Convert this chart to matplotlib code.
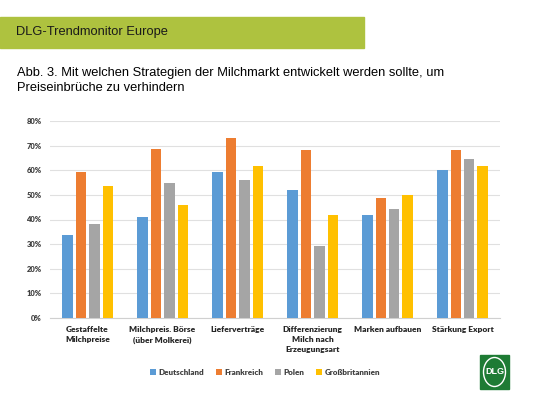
import matplotlib.pyplot as plt
import numpy as np
from matplotlib.patches import Rectangle, Ellipse

kategorien = ["Gestaffelte\nMilchpreise", "Milchpreis. Börse\n(über Molkerei)", "Lieferverträge",
              "Differenzierung\nMilch nach\nErzeugungsart", "Marken aufbauen", "Stärkung Export"]
laender = ["Deutschland", "Frankreich", "Polen", "Großbritannien"]
deutschland = [33.6, 41.0, 59.4, 51.8, 41.8, 60.1]
frankreich = [59.1, 68.8, 73.1, 68.2, 48.6, 68.2]
polen = [38.1, 54.7, 56.0, 29.4, 44.3, 64.5]
grossbritannien = [53.7, 45.9, 61.7, 41.8, 49.8, 61.7]
farben = ["#5B9BD5", "#ED7D31", "#A5A5A5", "#FFC000"]

fig = plt.figure(figsize=(5.33, 4), dpi=100)

# Kopfzeile
fig.patches.append(Rectangle((0, 1 - 48/400), 364/533, 31/400, transform=fig.transFigure,
                             color="#AEC23F", zorder=0))
fig.text(16/533, 1 - 32/400, "DLG-Trendmonitor Europe", fontsize=9.3, family="Liberation Sans",
         va="center", color="#1a1a1a")
fig.text(17/533, 1 - 73/400, "Abb. 3. Mit welchen Strategien der Milchmarkt entwickelt werden sollte, um",
         fontsize=9.3, family="Liberation Sans", va="center")
fig.text(17/533, 1 - 88/400, "Preiseinbrüche zu verhindern",
         fontsize=9.3, family="Liberation Sans", va="center")

ax = fig.add_axes([50/533, 82/400, 450/533, 197/400])
x = np.arange(len(kategorien))
w = 0.14
pitch = 0.18
serien = [deutschland, frankreich, polen, grossbritannien]
for i, (werte, name) in enumerate(zip(serien, laender)):
    ax.bar(x + (i - 1.5) * pitch, werte, w, color=farben[i], label=name, zorder=3)

ax.set_xlim(-0.5, len(kategorien) - 0.5)
ax.set_ylim(0, 80)
ax.set_yticks(range(0, 81, 10))
ax.set_yticklabels([f"{v}%" for v in range(0, 81, 10)], fontsize=5.5, family="Lato",
                   fontweight="heavy", color="#404040")
ax.set_xticks(x)
ax.set_xticklabels(kategorien, fontsize=6, family="Lato", fontweight="heavy", color="#262626",
                   linespacing=1.5, va="top")
ax.tick_params(length=0, pad=6)
ax.grid(axis="y", color="#E0E0E0", linewidth=0.8, zorder=0)
for s in ["top", "right", "left"]:
    ax.spines[s].set_visible(False)
ax.spines["bottom"].set_color("#D0D0D0")

ax.legend(loc="upper center", bbox_to_anchor=(0.478, -0.22), ncol=4, frameon=False,
          prop={"family": "Lato", "weight": "heavy", "size": 5.8}, handlelength=0.7,
          handleheight=0.7, columnspacing=1.5, handletextpad=0.3, labelcolor="#404040")

# DLG Logo
fig.patches.append(Rectangle((480/533, 1 - 389/400), 29/533, 34/400, transform=fig.transFigure,
                             color="#1E7B34", zorder=2))
fig.patches.append(Ellipse((494.5/533, 1 - 372/400), 22/533, 29/400, transform=fig.transFigure,
                           facecolor="none", edgecolor="white", linewidth=1.0, zorder=3))
fig.text(494.5/533, 1 - 372/400, "DLG", fontsize=6.5, color="white", fontweight="bold",
         ha="center", va="center", family="Liberation Sans", zorder=4)

fig.savefig("out.png", dpi=100)
